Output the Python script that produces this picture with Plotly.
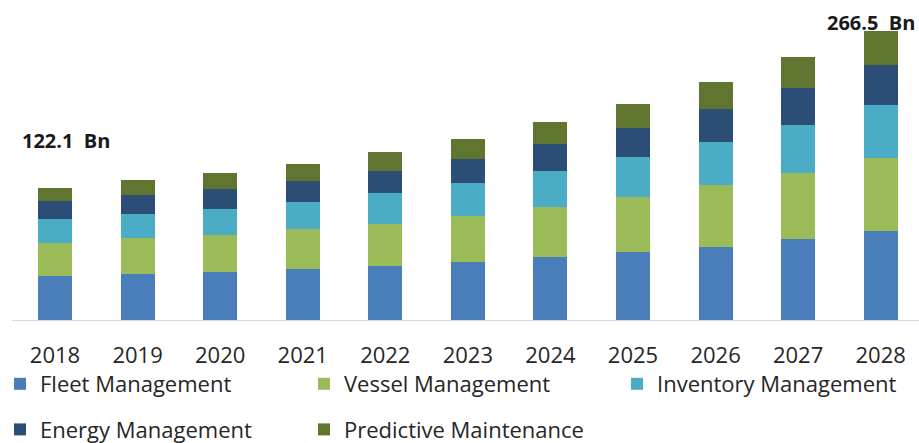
import plotly.graph_objects as go

years = ["2018", "2019", "2020", "2021", "2022", "2023", "2024", "2025", "2026", "2027", "2028"]

fleet = [40.8, 42.5, 44.0, 47.1, 50.1, 53.3, 58.4, 62.5, 67.7, 74.5, 81.9]
vessel = [30.3, 33.5, 34.4, 36.6, 38.1, 42.7, 45.5, 51.3, 56.9, 61.6, 67.9]
inventory = [22.5, 21.5, 24.3, 25.6, 28.6, 30.2, 33.5, 36.4, 40.0, 44.0, 48.8]
energy = [16.1, 17.5, 17.8, 19.1, 20.6, 22.4, 25.2, 26.8, 29.8, 33.9, 36.9]
predictive = [12.4, 13.8, 15.4, 15.7, 17.3, 18.7, 20.3, 22.2, 25.6, 28.3, 31.0]

series_names = ["Fleet Management", "Vessel Management", "Inventory Management",
                "Energy Management", "Predictive Maintenance"]
series_values = [fleet, vessel, inventory, energy, predictive]
colors = ["#4A7EBB", "#9BBB59", "#4BACC6", "#2C4D75", "#5F7530"]
legend_ids = ["legend", "legend2", "legend3", "legend", "legend2"]

label_years = ["2018", "2028"]
label_texts = ["122.1  Bn", "266.5  Bn"]

FONT = "Open Sans"

fig = go.Figure()
for i, (name, vals, col, lg) in enumerate(zip(series_names, series_values, colors, legend_ids)):
    fig.add_trace(go.Bar(
        x=years, y=vals, name=name, marker=dict(color=col, line=dict(width=0)),
        legend=lg, legendgroup="g%d" % i,
    ))

totals = [sum(v) for v in zip(*series_values)]
shifts = {"2018": (11, 47), "2028": (-10, 9)}
annotations = []
for yr, txt in zip(label_years, label_texts):
    i = years.index(yr)
    annotations.append(dict(
        x=i, y=float(totals[i]), xref="x", yref="y",
        text="<b>" + txt + "</b>", showarrow=False, visible=True,
        xanchor="center", yanchor="middle",
        xshift=shifts[yr][0], yshift=shifts[yr][1],
        font=dict(family=FONT, size=20, color="#1a1a1a"),
    ))

scale_top = 300 * 0.923

leg_common = dict(
    orientation="v", xref="container", yref="container",
    xanchor="left", yanchor="top", y=1 - 363 / 443,
    font=dict(family=FONT, size=22, color="#262626"),
    bgcolor="rgba(0,0,0,0)", itemclick=False, itemdoubleclick=False,
    traceorder="grouped", tracegroupgap=14,
)

fig.update_layout(
    width=919, height=443,
    margin=dict(l=12, r=0, t=20, b=123, autoexpand=False),
    barmode="stack",
    bargap=0.588,
    plot_bgcolor="white",
    paper_bgcolor="white",
    font=dict(family=FONT, size=22, color="#262626"),
    annotations=annotations,
    xaxis=dict(
        type="category",
        range=[-0.521, 10.464],
        showline=True, linecolor="#D9D9D9", linewidth=1,
        ticks="", showgrid=False, ticklabelstandoff=16,
        tickfont=dict(family=FONT, size=22, color="#262626"),
    ),
    yaxis=dict(
        range=[0, scale_top], showgrid=False, showline=False,
        zeroline=False, showticklabels=False, ticks="",
    ),
    legend=dict(leg_common, x=0),
    legend2=dict(leg_common, x=304 / 919),
    legend3=dict(leg_common, x=617 / 919),
)

fig.write_html("out.html")
